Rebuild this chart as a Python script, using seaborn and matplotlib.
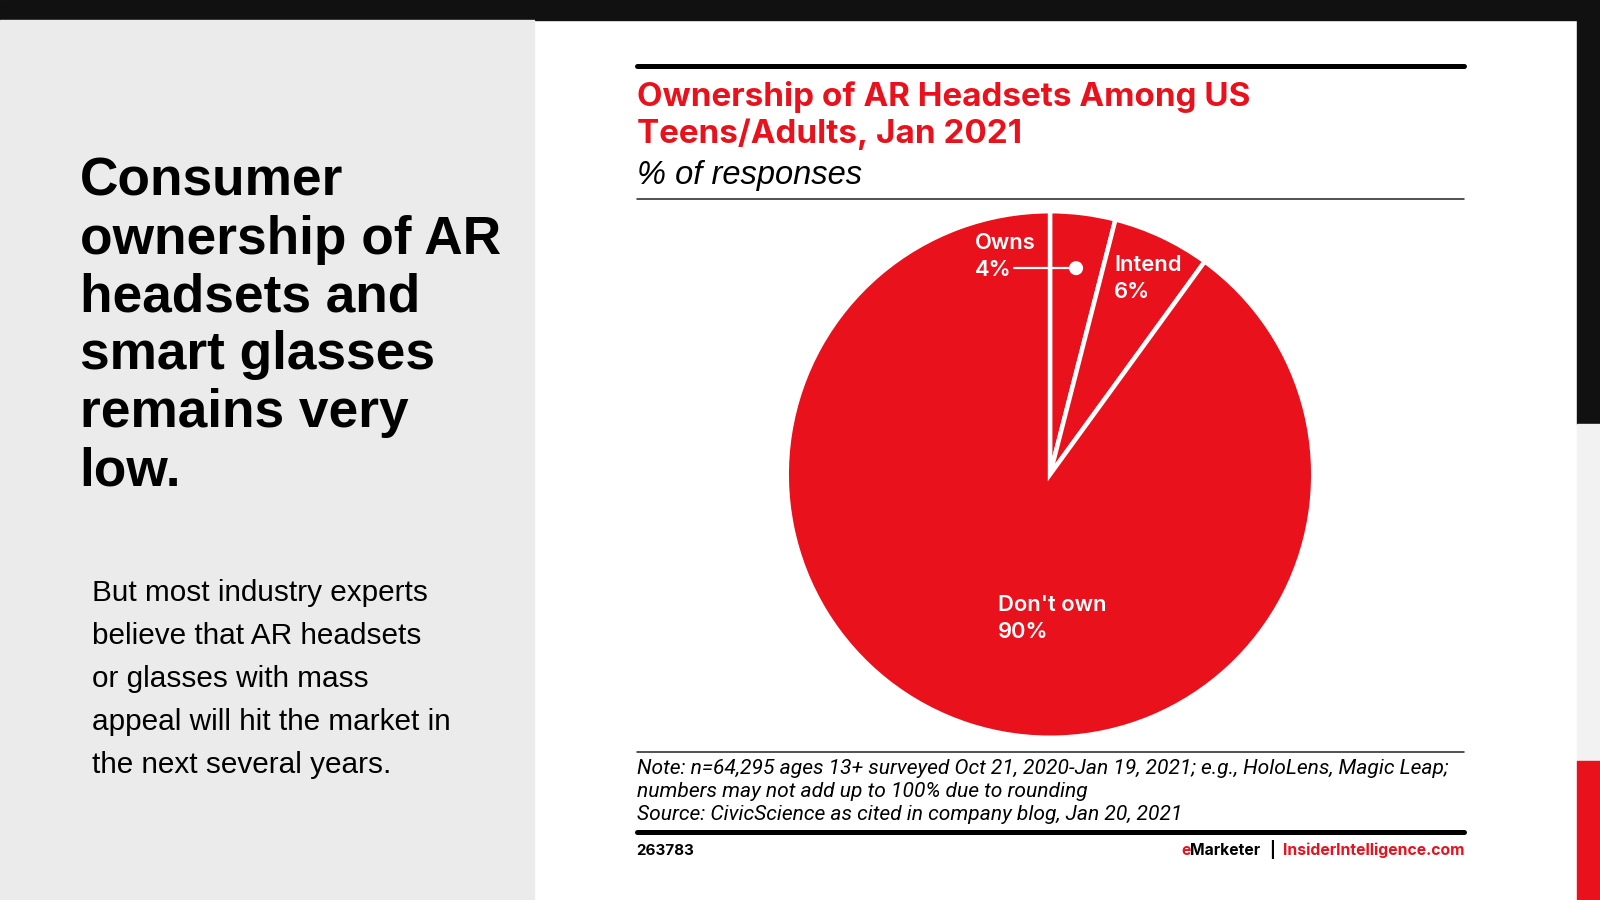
import matplotlib
matplotlib.use("Agg")
import matplotlib.pyplot as plt
import seaborn as sns
from matplotlib.patches import Rectangle, Circle
from matplotlib.lines import Line2D
import numpy as np

# data
labels = ["Owns", "Intend", "Don't own"]
shares = [4, 6, 90]

headline = ["Consumer", "ownership of AR", "headsets and", "smart glasses",
            "remains very", "low."]
body = ["But most industry experts", "believe that AR headsets",
        "or glasses with mass", "appeal will hit the market in",
        "the next several years."]
title = ["Ownership of AR Headsets Among US", "Teens/Adults, Jan 2021"]
subtitle = "% of responses"
notes = ["Note: n=64,295 ages 13+ surveyed Oct 21, 2020-Jan 19, 2021; e.g., HoloLens, Magic Leap;",
         "numbers may not add up to 100% due to rounding",
         "Source: CivicScience as cited in company blog, Jan 20, 2021"]
chart_id = "263783"

RED = "#e8111c"
W, H = 1568, 882

sns.set_theme(style="white")
plt.rcParams['font.family'] = ['Liberation Sans', 'DejaVu Sans']

fig = plt.figure(figsize=(16, 9), dpi=100)
fig.patch.set_facecolor("white")

# overlay axes in reference pixel coordinates
bg = fig.add_axes([0, 0, 1, 1])
bg.set_xlim(0, W)
bg.set_ylim(H, 0)
bg.axis("off")

bg.add_patch(Rectangle((0, 0), W, 20, color="#111111", zorder=0))
bg.add_patch(Rectangle((0, 20), 523, H - 20, color="#ebebeb", zorder=0))
bg.add_patch(Rectangle((1545, 0), W - 1545, 416, color="#111111", zorder=0))
bg.add_patch(Rectangle((1545, 416), W - 1545, 330, color="#f2f2f2", zorder=0))
bg.add_patch(Rectangle((1545, 746), W - 1545, H - 746, color=RED, zorder=0))

# left side text
for i, line in enumerate(headline):
    bg.text(78, 192 + i * 56.7, line, fontsize=38.3, fontweight="bold",
            color="black", va="baseline", ha="left")
for i, line in enumerate(body):
    bg.text(90, 589 + i * 42.2, line, fontsize=21.4, color="black",
            va="baseline", ha="left")

# chart frame lines
x0, x1 = 624, 1435
bg.add_line(Line2D([x0, x1], [65, 65], color="black", lw=3.6))
bg.add_line(Line2D([x0, x1], [195, 195], color="#222222", lw=1.1))
bg.add_line(Line2D([x0, x1], [737, 737], color="#222222", lw=1.1))
bg.add_line(Line2D([x0, x1], [815, 815], color="black", lw=3.6))

for i, line in enumerate(title):
    bg.text(x0, 104 + i * 36.5, line, fontsize=23.9, fontweight="bold",
            color=RED, va="baseline", ha="left", family="Inter")
bg.text(x0, 180, subtitle, fontsize=23.5, style="italic", color="black",
        va="baseline", ha="left", family="Liberation Sans")
for i, line in enumerate(notes):
    bg.text(x0, 759 + i * 22.5, line, fontsize=15.1, style="italic",
            color="black", va="baseline", ha="left", family="Roboto")

bg.text(x0, 838, chart_id, fontsize=10.9, fontweight="bold", color="black",
        va="baseline", ha="left", family="Inter")

# footer right: eMarketer | InsiderIntelligence.com
fig.canvas.draw()
rend = fig.canvas.get_renderer()
inv = bg.transData.inverted()


def left_of(t, gap):
    bb = t.get_window_extent(rend)
    return inv.transform((bb.x0, bb.y0))[0] - gap


foot_kw = dict(fontsize=11.3, fontweight="bold", va="baseline", ha="right",
               family="Inter")
t = bg.text(x1, 838, "InsiderIntelligence.com", color=RED, **foot_kw)
t = bg.text(left_of(t, 8), 838, "|", color="black", **foot_kw)
t = bg.text(left_of(t, 8), 838, "Marketer", color="black", **foot_kw)
bg.text(left_of(t, 0), 838, "e", color=RED, **foot_kw)

# pie
cx, cy, r = 1029, 465, 258
ax = fig.add_axes([(cx - r) / W, 1 - (cy + r) / H, 2 * r / W, 2 * r / H])
ax.set_facecolor("none")
wedges, _ = ax.pie(shares, colors=[RED] * len(shares), startangle=90,
                   counterclock=False,
                   wedgeprops=dict(edgecolor="white", linewidth=3.2))
ax.set_xlim(-1, 1)
ax.set_ylim(-1, 1)
ax.set_aspect("equal")

mids = [np.deg2rad((w.theta1 + w.theta2) / 2) for w in wedges]

# Owns: callout dot + leader line
dx, dy = 0.79 * np.cos(mids[0]), 0.79 * np.sin(mids[0])
ax.plot([dx - 0.235, dx], [dy, dy], color="white", lw=1.6, zorder=5)
ax.add_patch(Circle((dx, dy), 0.024, color="white", zorder=6))
lab_kw = dict(color="white", fontsize=15.8, fontweight="semibold", family="Inter",
              ha="left", va="center", linespacing=1.4)
ax.text(dx - 0.385, dy + 0.045, f"{labels[0]}\n{shares[0]}%", **lab_kw)
ax.text(0.244, 0.744, f"{labels[1]}\n{shares[1]}%", **lab_kw)
ax.text(-0.198, -0.547, f"{labels[2]}\n{shares[2]}%", **lab_kw)

fig.savefig("out.png", dpi=100, facecolor=fig.get_facecolor())
